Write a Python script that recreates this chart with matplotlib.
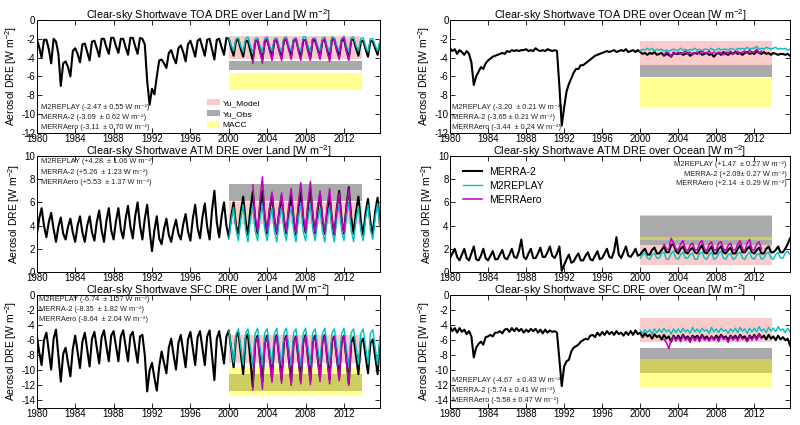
import numpy as np
import matplotlib
matplotlib.use("Agg")
import matplotlib.pyplot as plt

plt.rcParams['font.family'] = ['Liberation Sans', 'DejaVu Sans']
plt.rcParams['mathtext.default'] = 'regular'
plt.rcParams['axes.unicode_minus'] = False

# quarterly samples (Jan, Apr, Jul, Oct)
t_m2 = np.arange(1980, 2016, 0.25)       # MERRA-2
t_rep = np.arange(2000, 2016, 0.25)      # M2REPLAY
t_ero = np.arange(2002.5, 2013, 0.25)    # MERRAero

# ---- TOA land ----
toa_land_m2 = [
    -2.0, -2.9, -4.0, -2.1,  -2.1, -3.1, -4.6, -2.0,
    -2.3, -3.6, -7.0, -4.6,  -4.4, -5.0, -6.0, -3.3,
    -3.0, -3.6, -4.5, -2.6,  -2.5, -3.4, -4.3, -2.3,
    -2.2, -3.0, -3.9, -2.0,  -2.0, -2.9, -3.6, -1.9,
    -1.9, -2.8, -3.5, -2.0,  -2.0, -2.9, -3.7, -1.9,
    -1.9, -2.8, -3.6, -1.9,  -2.0, -2.6, -6.5, -9.0,
    -7.3, -7.9, -6.0, -4.3,  -4.2, -4.6, -5.1, -3.5,
    -3.2, -4.0, -4.6, -3.0,  -2.7, -3.4, -4.4, -2.6,
    -2.2, -3.0, -3.9, -2.2,  -2.0, -2.9, -3.8, -2.1,
    -2.0, -3.1, -4.2, -2.1,  -2.0, -2.9, -3.7, -1.9,
    -2.0, -3.0, -3.8, -2.2,  -2.1, -3.1, -3.9, -2.3,
    -2.2, -3.3, -4.3, -2.3,  -2.2, -3.3, -4.2, -2.3,
    -2.1, -3.1, -3.9, -2.2,  -2.2, -3.2, -4.0, -2.1,
    -2.1, -3.0, -3.8, -2.2,  -2.0, -3.1, -4.0, -2.2,
    -2.1, -3.2, -4.0, -2.1,  -2.2, -3.1, -3.9, -2.2,
    -2.1, -3.2, -4.1, -2.0,  -2.1, -3.1, -3.9, -2.2,
    -2.0, -3.2, -4.1, -2.1,  -2.1, -3.0, -3.8, -2.3,
    -2.2, -3.1, -3.9, -2.2,  -2.3, -3.0, -3.7, -2.4,
]
toa_land_rep = [
    -1.9, -2.7, -3.3, -2.0,  -1.9, -2.8, -3.4, -2.0,
    -1.8, -2.8, -3.5, -2.0,  -1.9, -2.7, -3.4, -1.9,
    -1.8, -2.7, -3.3, -2.0,  -1.9, -2.8, -3.4, -1.9,
    -1.8, -2.7, -3.3, -2.0,  -1.9, -2.8, -3.4, -1.8,
    -1.8, -2.7, -3.4, -2.0,  -1.9, -2.7, -3.3, -1.9,
    -1.8, -2.8, -3.4, -1.8,  -1.9, -2.7, -3.3, -2.0,
    -1.7, -2.7, -3.4, -1.9,  -1.8, -2.7, -3.3, -2.0,
    -1.9, -2.8, -3.4, -2.0,  -2.0, -2.7, -3.3, -2.1,
]
toa_land_ero = [
    -4.6, -2.3,
    -2.1, -3.4, -4.6, -2.2,  -2.0, -3.3, -4.3, -2.2,
    -2.1, -3.3, -4.3, -2.1,  -2.0, -3.2, -4.2, -2.2,
    -2.0, -3.3, -4.3, -2.1,  -2.1, -3.4, -4.3, -2.0,
    -2.1, -3.2, -4.2, -2.2,  -2.0, -3.3, -4.4, -2.1,
    -2.1, -3.3, -4.2, -2.1,  -1.9, -3.3, -4.3, -2.2,
]

# ---- TOA ocean ----
toa_ocean_m2 = [
    -3.0, -3.3, -3.1, -3.6,  -3.2, -3.4, -3.7, -3.3,
    -3.6, -4.5, -6.9, -6.0,  -5.5, -5.0, -5.2, -4.6,
    -4.3, -4.1, -3.9, -3.8,  -3.7, -3.6, -3.5, -3.6,
    -3.3, -3.4, -3.2, -3.3,  -3.2, -3.3, -3.2, -3.2,
    -3.1, -3.3, -3.2, -3.3,  -3.0, -3.2, -3.3, -3.2,
    -3.3, -3.1, -3.2, -3.3,  -3.2, -3.3, -7.0, -11.2,
    -9.3, -7.6, -6.8, -6.2,  -5.6, -5.2, -5.2, -4.8,
    -4.8, -4.6, -4.4, -4.2,  -4.0, -3.8, -3.7, -3.6,
    -3.5, -3.4, -3.3, -3.4,  -3.3, -3.2, -3.4, -3.3,
    -3.2, -3.3, -3.1, -3.4,  -3.3, -3.2, -3.4, -3.2,
    -3.4, -3.6, -3.5, -3.7,  -3.5, -3.6, -3.4, -3.7,
    -3.6, -3.5, -3.8, -3.6,  -3.7, -3.9, -3.5, -3.6,
    -3.6, -3.5, -3.7, -3.6,  -3.5, -3.8, -3.6, -3.5,
    -3.6, -3.4, -3.7, -3.6,  -3.5, -3.7, -3.6, -3.9,
    -3.6, -3.5, -3.7, -3.4,  -3.6, -3.7, -3.5, -3.6,
    -3.4, -3.6, -3.5, -3.7,  -3.5, -3.4, -3.6, -3.5,
    -3.6, -3.3, -3.5, -3.6,  -3.4, -3.6, -3.5, -3.7,
    -3.5, -3.6, -3.7, -3.6,  -3.6, -3.7, -3.6, -3.8,
]
toa_ocean_rep = [
    -3.3, -3.1, -3.2, -3.0,  -3.2, -3.0, -3.3, -3.1,
    -3.2, -3.1, -3.3, -3.2,  -3.3, -3.2, -3.1, -3.2,
    -3.2, -3.0, -3.2, -3.1,  -3.3, -3.1, -3.2, -3.0,
    -3.2, -3.1, -3.3, -3.1,  -3.1, -3.2, -3.0, -3.2,
    -3.2, -3.0, -3.2, -3.1,  -3.1, -3.2, -3.0, -3.1,
    -3.2, -3.0, -3.1, -3.0,  -3.1, -2.9, -3.1, -3.0,
    -3.0, -2.8, -3.1, -3.0,  -3.1, -2.9, -3.0, -3.1,
    -3.0, -2.9, -3.1, -3.0,  -3.1, -3.0, -3.2, -3.1,
]
toa_ocean_ero = [
    -3.7, -3.4,
    -3.5, -3.9, -3.4, -3.6,  -3.4, -3.6, -3.5, -3.3,
    -3.6, -3.4, -3.7, -3.5,  -3.4, -3.6, -3.3, -3.5,
    -3.5, -3.3, -3.6, -3.4,  -3.6, -3.4, -3.5, -3.7,
    -3.4, -3.5, -3.3, -3.6,  -3.5, -3.3, -3.6, -3.4,
    -3.3, -3.5, -3.2, -3.4,  -3.4, -3.1, -3.5, -3.3,
]

# ---- ATM land ----
atm_land_m2 = [
    3.2, 4.6, 5.5, 4.0,  3.0, 4.3, 5.1, 3.7,
    2.6, 3.9, 4.7, 3.3,  2.8, 3.9, 4.6, 3.4,
    2.6, 4.0, 4.8, 3.4,  2.6, 4.0, 4.8, 3.4,
    2.7, 4.3, 5.3, 3.6,  2.6, 4.4, 5.5, 3.6,
    2.8, 4.4, 5.5, 3.7,  2.9, 4.6, 5.7, 3.9,
    2.9, 4.8, 6.0, 4.0,  2.8, 4.6, 5.8, 3.6,
    1.8, 3.6, 4.8, 2.9,  2.4, 3.7, 4.6, 3.2,
    2.6, 3.7, 4.5, 3.3,  2.8, 4.1, 5.0, 3.5,
    2.7, 4.6, 5.8, 3.8,  2.9, 4.7, 5.9, 3.9,
    2.8, 5.3, 7.0, 4.3,  3.0, 4.8, 6.0, 4.0,
    3.0, 4.8, 6.0, 4.0,  3.3, 5.2, 6.5, 4.4,
    3.2, 5.4, 6.9, 4.5,  3.3, 5.5, 7.0, 4.6,
    3.3, 5.3, 6.6, 4.5,  3.3, 5.2, 6.5, 4.4,
    3.3, 5.3, 6.6, 4.5,  3.2, 5.5, 7.0, 4.5,
    3.4, 5.6, 7.1, 4.7,  3.3, 5.3, 6.7, 4.5,
    3.3, 5.2, 6.5, 4.4,  3.2, 5.5, 7.0, 4.5,
    3.3, 5.7, 7.3, 4.7,  3.3, 5.2, 6.5, 4.4,
    3.2, 5.1, 6.3, 4.3,  3.3, 5.2, 6.4, 4.0,
]
atm_land_rep = [
    2.8, 4.5, 5.6, 3.6,  2.7, 4.6, 5.8, 3.6,
    2.6, 4.5, 5.7, 3.5,  2.7, 4.6, 5.8, 3.6,
    2.7, 4.4, 5.5, 3.5,  2.6, 4.4, 5.6, 3.5,
    2.7, 4.5, 5.6, 3.6,  2.6, 4.6, 5.9, 3.5,
    2.7, 4.6, 5.8, 3.6,  2.7, 4.4, 5.5, 3.5,
    2.6, 4.5, 5.7, 3.5,  2.6, 4.6, 5.8, 3.5,
    2.7, 4.7, 6.0, 3.6,  2.6, 4.5, 5.7, 3.5,
    2.7, 4.6, 5.8, 3.6,  2.8, 4.7, 5.9, 3.9,
]
atm_land_ero = [
    7.5, 4.8,
    3.5, 6.2, 8.2, 5.0,  3.5, 5.6, 6.9, 4.7,
    3.4, 5.5, 6.8, 4.6,  3.5, 5.8, 7.2, 4.8,
    3.4, 6.0, 7.7, 4.9,  3.5, 6.1, 7.8, 5.0,
    3.4, 5.6, 7.0, 4.7,  3.4, 5.7, 7.2, 4.7,
    3.3, 5.5, 6.8, 4.5,  3.4, 5.7, 7.2, 4.7,
]

# ---- ATM ocean ----
atm_ocean_m2 = [
    1.2, 1.6, 2.0, 1.3,  1.0, 1.5, 2.0, 1.2,
    1.0, 1.6, 2.2, 1.1,  1.0, 1.4, 2.0, 1.2,
    1.0, 1.4, 1.8, 1.1,  1.1, 1.5, 1.9, 1.2,
    1.1, 1.5, 2.0, 1.3,  1.2, 1.8, 2.8, 1.3,
    1.1, 1.6, 2.0, 1.2,  1.2, 1.6, 2.1, 1.3,
    1.3, 1.7, 2.2, 1.4,  1.2, 1.6, 2.2, 0.1,
    0.6, 1.1, 1.5, 0.8,  0.9, 1.3, 1.6, 1.0,
    1.0, 1.4, 1.7, 1.1,  1.0, 1.4, 1.8, 1.1,
    1.2, 1.6, 2.0, 1.3,  1.2, 1.8, 3.0, 1.5,
    1.2, 1.7, 2.2, 1.4,  1.3, 1.6, 2.0, 1.4,
    1.5, 1.8, 2.0, 1.5,  1.5, 1.9, 2.1, 1.6,
    1.6, 1.9, 2.2, 1.7,  1.7, 2.3, 2.4, 1.8,
    1.6, 2.0, 2.2, 1.7,  1.6, 1.9, 2.1, 1.7,
    1.6, 2.0, 2.3, 1.7,  1.6, 1.9, 2.2, 1.6,
    1.6, 2.0, 2.2, 1.7,  1.6, 1.9, 2.1, 1.6,
    1.6, 2.0, 2.3, 1.7,  1.7, 2.0, 2.2, 1.7,
    1.6, 1.9, 2.1, 1.6,  1.6, 2.0, 2.2, 1.7,
    1.7, 1.9, 2.2, 1.7,  1.7, 2.0, 2.4, 2.9,
]
atm_ocean_rep = [
    1.2, 1.5, 1.7, 1.2,  1.1, 1.5, 1.6, 1.2,
    1.2, 1.6, 1.7, 1.1,  1.1, 1.6, 1.8, 1.2,
    1.1, 1.5, 1.7, 1.2,  1.2, 1.5, 1.6, 1.1,
    1.1, 1.6, 1.7, 1.2,  1.1, 1.5, 1.7, 1.1,
    1.2, 1.6, 1.8, 1.2,  1.1, 1.5, 1.6, 1.1,
    1.2, 1.6, 1.7, 1.2,  1.1, 1.5, 1.7, 1.2,
    1.1, 1.5, 1.6, 1.1,  1.2, 1.6, 1.7, 1.2,
    1.1, 1.5, 1.7, 1.2,  1.2, 1.6, 1.8, 1.5,
]
atm_ocean_ero = [
    2.4, 2.0,
    1.9, 2.9, 2.5, 2.0,  1.9, 2.4, 2.7, 2.0,
    1.8, 2.3, 2.5, 1.9,  1.9, 2.5, 2.7, 2.0,
    1.8, 2.4, 2.6, 1.9,  1.9, 2.5, 2.6, 2.0,
    1.8, 2.3, 2.5, 1.9,  1.9, 2.4, 2.7, 2.0,
    1.8, 2.5, 2.8, 1.9,  1.9, 2.4, 2.6, 2.0,
]

# ---- SFC land ----
sfc_land_m2 = [
    -5.3, -7.6, -9.3, -6.0,  -5.0, -7.5, -9.9, -5.8,
    -4.6, -8.0, -11.5, -7.8,  -7.0, -9.0, -10.8, -7.2,
    -5.4, -7.6, -9.7, -6.2,  -5.0, -7.3, -9.5, -5.8,
    -4.9, -7.0, -9.1, -5.6,  -4.7, -6.8, -8.8, -5.4,
    -4.8, -6.8, -8.8, -5.5,  -4.7, -6.8, -8.8, -5.4,
    -4.9, -7.0, -9.0, -5.5,  -5.3, -8.0, -12.8, -10.0,
    -9.0, -11.0, -12.7, -9.5,  -7.5, -9.0, -10.4, -7.0,
    -5.8, -8.0, -9.9, -6.4,  -5.3, -7.5, -9.6, -5.9,
    -4.9, -7.1, -9.3, -5.6,  -4.8, -7.1, -9.3, -5.5,
    -4.7, -8.0, -11.3, -5.8,  -4.8, -7.0, -9.1, -5.5,
    -4.7, -7.2, -9.6, -5.6,  -5.0, -7.8, -10.5, -5.8,
    -5.2, -8.7, -12.2, -6.2,  -5.4, -8.5, -11.5, -6.3,
    -5.4, -8.2, -11.0, -6.2,  -5.3, -8.3, -11.2, -6.1,
    -5.4, -8.5, -11.5, -6.2,  -5.5, -8.4, -11.3, -6.3,
    -5.3, -8.3, -11.3, -6.1,  -5.4, -8.2, -11.0, -6.2,
    -5.3, -8.3, -11.2, -6.1,  -5.5, -8.2, -11.0, -6.2,
    -5.4, -8.6, -11.7, -6.3,  -5.6, -8.0, -10.5, -6.3,
    -5.8, -8.1, -10.4, -6.4,  -5.9, -8.2, -10.5, -6.2,
]
sfc_land_rep = [
    -4.6, -7.0, -9.0, -5.2,  -4.5, -7.0, -9.3, -5.1,
    -4.5, -7.0, -9.4, -5.1,  -4.4, -6.9, -9.3, -5.0,
    -4.5, -6.9, -9.2, -5.1,  -4.4, -6.9, -9.3, -5.0,
    -4.4, -6.9, -9.3, -5.0,  -4.5, -7.0, -9.4, -5.1,
    -4.4, -6.9, -9.3, -5.0,  -4.5, -6.9, -9.2, -5.1,
    -4.4, -6.9, -9.3, -5.0,  -4.5, -6.9, -9.2, -5.1,
    -4.4, -7.0, -9.4, -5.0,  -4.5, -6.9, -9.2, -5.1,
    -4.5, -6.9, -9.2, -5.1,  -4.6, -7.0, -9.3, -5.4,
]
sfc_land_ero = [
    -12.6, -6.4,
    -5.6, -9.1, -12.5, -6.5,  -5.6, -8.6, -11.6, -6.4,
    -5.5, -8.6, -11.7, -6.3,  -5.6, -8.8, -12.0, -6.4,
    -5.6, -8.7, -11.8, -6.4,  -5.5, -8.7, -11.9, -6.3,
    -5.6, -8.5, -11.5, -6.4,  -5.5, -8.7, -11.8, -6.3,
    -5.6, -8.5, -11.4, -6.4,  -5.5, -8.8, -12.0, -6.4,
]

# ---- SFC ocean ----
sfc_ocean_m2 = [
    -4.2, -4.8, -4.4, -5.0,  -4.4, -4.9, -4.6, -5.2,
    -4.8, -5.5, -8.3, -7.0,  -6.5, -6.2, -6.6, -5.6,
    -5.5, -5.3, -5.5, -5.0,  -5.0, -4.8, -5.1, -4.6,
    -4.5, -4.9, -4.4, -4.8,  -4.4, -4.8, -4.5, -5.0,
    -4.6, -4.9, -4.5, -4.8,  -4.5, -5.0, -4.6, -5.1,
    -4.6, -5.0, -4.7, -4.9,  -4.8, -5.0, -8.5, -12.1,
    -9.5, -8.8, -8.6, -7.5,  -7.0, -6.8, -6.6, -6.2,
    -6.0, -5.8, -5.9, -5.4,  -5.3, -5.6, -5.0, -5.4,
    -4.9, -5.3, -4.8, -5.2,  -4.9, -5.3, -4.8, -5.2,
    -5.0, -5.4, -4.9, -5.3,  -4.8, -5.3, -4.7, -5.2,
    -5.0, -5.6, -5.1, -5.5,  -5.3, -5.8, -5.2, -5.6,
    -5.4, -5.9, -5.3, -5.8,  -5.5, -6.2, -5.4, -5.9,
    -5.4, -5.9, -5.3, -5.8,  -5.5, -6.0, -5.4, -5.7,
    -5.4, -5.9, -5.3, -5.8,  -5.5, -6.0, -5.5, -5.9,
    -5.4, -5.8, -5.3, -5.7,  -5.5, -6.0, -5.4, -5.8,
    -5.4, -5.9, -5.3, -5.7,  -5.5, -6.1, -5.4, -5.8,
    -5.3, -5.8, -5.2, -5.7,  -5.4, -5.9, -5.3, -5.8,
    -5.5, -6.0, -5.4, -5.9,  -5.6, -6.0, -5.8, -6.7,
]
sfc_ocean_rep = [
    -4.7, -5.1, -4.6, -5.0,  -4.6, -5.2, -4.5, -5.0,
    -4.5, -5.0, -4.4, -4.9,  -4.6, -5.2, -4.5, -5.0,
    -4.5, -5.0, -4.4, -4.9,  -4.6, -5.1, -4.3, -4.9,
    -4.5, -5.0, -4.4, -4.8,  -4.6, -5.1, -4.3, -4.9,
    -4.5, -5.0, -4.4, -4.8,  -4.6, -5.1, -4.5, -4.9,
    -4.4, -5.0, -4.3, -4.8,  -4.5, -5.1, -4.4, -4.9,
    -4.4, -4.9, -4.2, -4.8,  -4.5, -5.0, -4.3, -4.8,
    -4.4, -4.9, -4.2, -4.7,  -4.5, -5.0, -4.4, -4.9,
]
sfc_ocean_ero = [
    -5.9, -6.3,
    -7.1, -6.0, -5.5, -6.1,  -5.6, -6.2, -5.4, -6.0,
    -5.7, -6.3, -5.5, -6.1,  -5.6, -6.2, -5.4, -6.0,
    -5.7, -6.1, -5.5, -6.0,  -5.6, -6.2, -5.4, -5.9,
    -5.7, -6.3, -5.5, -6.0,  -5.6, -6.1, -5.4, -5.9,
    -5.7, -6.2, -5.5, -6.0,  -5.4, -6.0, -5.2, -5.8,
]

# reference ranges (2000-2013), lower/upper
band_x = [2000, 2013.9]
yu_model = [(-4.1, -1.7), (-4.8, -2.2), (4.1, 6.0), (0.6, 4.95), (-9.05, -5.3), (-6.3, -3.1)]
yu_obs = [(-5.3, -4.4), (-6.1, -4.8), (6.1, 7.6), (2.3, 4.85), (-12.8, -10.5), (-10.4, -7.0)]
macc = [(-7.4, -5.6), (-9.2, -6.2), (5.1, 5.3), (2.75, 3.05), (-13.3, -9.6), (-12.4, -8.5)]

titles = [
    "Clear-sky Shortwave TOA DRE over Land [W m$^{-2}$]",
    "Clear-sky Shortwave TOA DRE over Ocean [W m$^{-2}$]",
    "Clear-sky Shortwave ATM DRE over Land [W m$^{-2}$]",
    "Clear-sky Shortwave ATM DRE over Ocean [W m$^{-2}$]",
    "Clear-sky Shortwave SFC DRE over Land [W m$^{-2}$]",
    "Clear-sky Shortwave SFC DRE over Ocean [W m$^{-2}$]",
]
stats = [
    ["M2REPLAY (-2.47 ± 0.55 W m⁻²)", "MERRA-2 (-3.09  ± 0.62 W m⁻²)", "MERRAero (-3.11  ± 0.70 W m⁻²)"],
    ["M2REPLAY (-3.20  ± 0.21 W m⁻²)", "MERRA-2 (-3.65 ± 0.21 W m⁻²)", "MERRAero (-3.44  ± 0.24 W m⁻²)"],
    ["M2REPLAY (+4.28  ± 1.06 W m⁻²)", "MERRA-2 (+5.26  ± 1.23 W m⁻²)", "MERRAero (+5.53  ± 1.37 W m⁻²)"],
    ["M2REPLAY (+1.47  ± 0.27 W m⁻²)", "MERRA-2 (+2.09± 0.27 W m⁻²)", "MERRAero (+2.14  ± 0.29 W m⁻²)"],
    ["M2REPLAY (-6.74  ± 1.57 W m⁻²)", "MERRA-2 (-8.35  ± 1.82 W m⁻²)", "MERRAero (-8.64  ± 2.04 W m⁻²)"],
    ["M2REPLAY (-4.67  ± 0.43 W m⁻²)", "MERRA-2 (-5.74 ± 0.41 W m⁻²)", "MERRAero (-5.58 ± 0.47 W m⁻²)"],
]

series = [
    (toa_land_m2, toa_land_rep, toa_land_ero),
    (toa_ocean_m2, toa_ocean_rep, toa_ocean_ero),
    (atm_land_m2, atm_land_rep, atm_land_ero),
    (atm_ocean_m2, atm_ocean_rep, atm_ocean_ero),
    (sfc_land_m2, sfc_land_rep, sfc_land_ero),
    (sfc_ocean_m2, sfc_ocean_rep, sfc_ocean_ero),
]
ylims = [(-12, 0), (-12, 0), (0, 10), (0, 10), (-15, 0), (-15, 0)]
yticks = [range(-12, 1, 2), range(-12, 1, 2), range(0, 11, 2), range(0, 11, 2),
          range(-14, 1, 2), range(-14, 1, 2)]

# layout (figure fractions)
col_x = [0.046, 0.5625]
col_w = [0.429, 0.425]
row_y = [0.687, 0.36, 0.04]
row_h = [0.266, 0.273, 0.266]

# where the stat texts go (x, y of first line, step, ha)
stat_pos = [(0.012, 0.225, 0.088, 'left'), (0.006, 0.225, 0.088, 'left'),
            (0.012, 0.952, 0.092, 'left'), (0.99, 0.925, 0.083, 'right'),
            (0.007, 0.958, 0.089, 'left'), (0.005, 0.245, 0.090, 'left')]

fig = plt.figure(figsize=(8, 4.25), dpi=100)

for i in range(6):
    r, c = divmod(i, 2)
    ax = fig.add_axes([col_x[c], row_y[r], col_w[c], row_h[r]])

    ax.fill_between(band_x, *yu_model[i], color='#f9cbcb', lw=0, label='Yu_Model', zorder=1)
    ax.fill_between(band_x, *yu_obs[i], color='#aaaaaa', lw=0, label='Yu_Obs', zorder=2)
    ax.fill_between(band_x, *macc[i], color='yellow', alpha=0.42, lw=0, label='MACC', zorder=3)

    m2, rep, ero = series[i]
    l1, = ax.plot(t_m2, m2, color='k', lw=1.5, label='MERRA-2', zorder=4)
    l2, = ax.plot(t_rep, rep, color='c', lw=1.0, label='M2REPLAY', zorder=5)
    l3, = ax.plot(t_ero, ero, color='m', lw=1.1, label='MERRAero', zorder=6)

    ax.set_xlim(1980, 2015.75)
    ax.set_ylim(*ylims[i])
    ax.set_xticks(range(1980, 2013, 4))
    ax.set_yticks(list(yticks[i]))
    ax.tick_params(direction='in', top=True, right=True, labelsize=7, length=3.5, width=0.6, pad=1)
    for sp in ax.spines.values():
        sp.set_linewidth(0.7)
    ax.set_title(titles[i], fontsize=7.8, pad=0.5)
    ax.set_ylabel("Aerosol DRE [W m$^{-2}$]", fontsize=7.5, labelpad=2)

    sx, sy, step, ha = stat_pos[i]
    for k, s in enumerate(stats[i]):
        ax.text(sx, sy - k * step, s, transform=ax.transAxes, fontsize=5.3,
                ha=ha, va='center', color='#222222')

    if i == 0:
        handles = ax.get_legend_handles_labels()[0][:3]
        ax.legend(handles, ['Yu_Model', 'Yu_Obs', 'MACC'], loc='lower left',
                  bbox_to_anchor=(0.48, -0.01), frameon=False, fontsize=6,
                  handlelength=1.6, handleheight=0.8, labelspacing=0.35,
                  handletextpad=0.3, borderaxespad=0.2)
    if i == 3:
        ax.legend([l1, l2, l3], ['MERRA-2', 'M2REPLAY', 'MERRAero'], loc='upper left',
                  bbox_to_anchor=(0.01, 0.99), frameon=False, fontsize=7.5,
                  handlelength=1.8, labelspacing=0.4, handletextpad=0.7)

fig.savefig('out.png', dpi=100)
